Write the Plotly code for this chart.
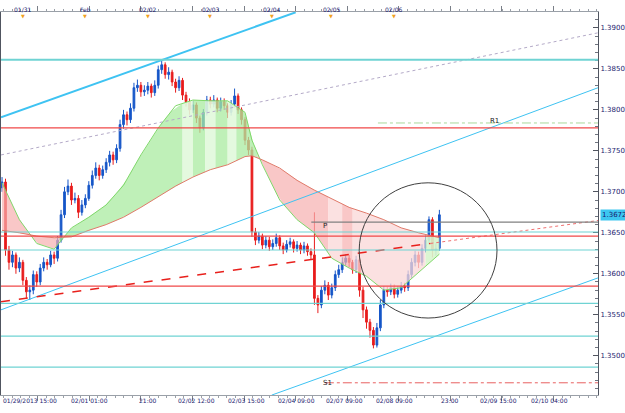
import numpy as np
import plotly.graph_objects as go

# ---------------- data ----------------
idx = list(range(127))
opens = [1.3705,1.3712,1.3629,1.3614,1.3623,1.3607,1.3614,1.3592,1.3578,1.3580,
1.3599,1.3590,1.3607,1.3614,1.3611,1.3623,1.3619,1.3641,1.3672,1.3700,
1.3707,1.3690,1.3692,1.3675,1.3684,1.3692,1.3708,1.3720,1.3729,1.3720,
1.3727,1.3736,1.3745,1.3739,1.3753,1.3782,1.3794,1.3788,1.3802,1.3827,
1.3830,1.3822,1.3824,1.3829,1.3821,1.3830,1.3849,1.3855,1.3843,1.3846,
1.3834,1.3827,1.3836,1.3818,1.3810,1.3800,1.3806,1.3790,1.3778,1.3797,
1.3812,1.3807,1.3812,1.3802,1.3810,1.3805,1.3797,1.3807,1.3817,1.3800,
1.3788,1.3763,1.3751,1.3651,1.3641,1.3646,1.3635,1.3641,1.3633,1.3637,
1.3644,1.3634,1.3629,1.3636,1.3639,1.3631,1.3635,1.3629,1.3634,1.3627,
1.3623,1.3570,1.3562,1.3580,1.3586,1.3574,1.3583,1.3599,1.3605,1.3614,
1.3619,1.3614,1.3605,1.3617,1.3580,1.3556,1.3541,1.3531,1.3513,1.3534,
1.3562,1.3580,1.3578,1.3583,1.3575,1.3580,1.3585,1.3583,1.3599,1.3614,
1.3623,1.3614,1.3631,1.3641,1.3666,1.3629,1.3631]
closes = [1.3712,1.3629,1.3614,1.3623,1.3607,1.3614,1.3592,1.3578,1.3580,1.3599,
1.3590,1.3607,1.3614,1.3611,1.3623,1.3619,1.3641,1.3672,1.3700,1.3707,
1.3690,1.3692,1.3675,1.3684,1.3692,1.3708,1.3720,1.3729,1.3720,1.3727,
1.3736,1.3745,1.3739,1.3753,1.3782,1.3794,1.3788,1.3802,1.3827,1.3830,
1.3822,1.3824,1.3829,1.3821,1.3830,1.3849,1.3855,1.3843,1.3846,1.3834,
1.3827,1.3836,1.3818,1.3810,1.3800,1.3806,1.3790,1.3778,1.3797,1.3812,
1.3807,1.3812,1.3802,1.3810,1.3805,1.3797,1.3807,1.3817,1.3800,1.3788,
1.3763,1.3751,1.3651,1.3641,1.3646,1.3635,1.3641,1.3633,1.3637,1.3644,
1.3634,1.3629,1.3636,1.3639,1.3631,1.3635,1.3629,1.3634,1.3627,1.3623,
1.3570,1.3562,1.3580,1.3586,1.3574,1.3583,1.3599,1.3605,1.3614,1.3619,
1.3614,1.3605,1.3617,1.3580,1.3556,1.3541,1.3531,1.3513,1.3534,1.3562,
1.3580,1.3578,1.3583,1.3575,1.3580,1.3585,1.3583,1.3599,1.3614,1.3623,
1.3614,1.3631,1.3641,1.3666,1.3629,1.3631,1.3672]
highs = [1.3718,1.3716,1.3634,1.3628,1.3626,1.3620,1.3617,1.3596,1.3586,1.3604,
1.3603,1.3612,1.3620,1.3618,1.3628,1.3627,1.3646,1.3678,1.3706,1.3715,
1.3711,1.3699,1.3696,1.3690,1.3697,1.3713,1.3726,1.3736,1.3733,1.3732,
1.3741,1.3750,1.3749,1.3758,1.3788,1.3800,1.3798,1.3808,1.3833,1.3837,
1.3834,1.3830,1.3834,1.3832,1.3836,1.3854,1.3861,1.3858,1.3852,1.3849,
1.3838,1.3841,1.3839,1.3822,1.3814,1.3811,1.3809,1.3793,1.3801,1.3817,
1.3816,1.3818,1.3815,1.3815,1.3814,1.3808,1.3812,1.3826,1.3820,1.3803,
1.3791,1.3767,1.3755,1.3656,1.3651,1.3649,1.3646,1.3645,1.3642,1.3649,
1.3647,1.3638,1.3641,1.3644,1.3642,1.3640,1.3638,1.3639,1.3637,1.3631,
1.3675,1.3574,1.3585,1.3592,1.3590,1.3588,1.3604,1.3611,1.3620,1.3624,
1.3623,1.3617,1.3622,1.3620,1.3584,1.3560,1.3545,1.3535,1.3540,1.3568,
1.3585,1.3584,1.3588,1.3587,1.3585,1.3590,1.3589,1.3604,1.3619,1.3628,
1.3627,1.3636,1.3647,1.3670,1.3669,1.3637,1.3678]
lows = [1.3700,1.3622,1.3605,1.3608,1.3600,1.3602,1.3586,1.3570,1.3568,1.3575,
1.3584,1.3586,1.3603,1.3605,1.3608,1.3612,1.3615,1.3638,1.3668,1.3696,
1.3684,1.3686,1.3668,1.3671,1.3680,1.3689,1.3704,1.3716,1.3714,1.3716,
1.3723,1.3731,1.3733,1.3735,1.3749,1.3777,1.3781,1.3784,1.3798,1.3822,
1.3816,1.3817,1.3819,1.3815,1.3817,1.3826,1.3844,1.3838,1.3837,1.3829,
1.3821,1.3823,1.3812,1.3804,1.3794,1.3796,1.3784,1.3772,1.3775,1.3793,
1.3802,1.3803,1.3797,1.3798,1.3800,1.3790,1.3793,1.3803,1.3795,1.3782,
1.3757,1.3745,1.3645,1.3635,1.3637,1.3630,1.3631,1.3628,1.3629,1.3633,
1.3629,1.3624,1.3626,1.3632,1.3626,1.3627,1.3624,1.3625,1.3622,1.3618,
1.3562,1.3552,1.3558,1.3575,1.3568,1.3570,1.3579,1.3595,1.3601,1.3610,
1.3608,1.3600,1.3601,1.3572,1.3546,1.3533,1.3522,1.3509,1.3510,1.3530,
1.3558,1.3572,1.3574,1.3570,1.3571,1.3576,1.3578,1.3579,1.3595,1.3609,
1.3607,1.3610,1.3626,1.3636,1.3620,1.3622,1.3628]

# cloud (two moving lines)
cloud_idx = [0,5,10,15,20,25,30,35,40,45,50,55,60,65,70,72,75,80,85,90,95,100,105,110,115,120,126]
green_line = [1.3711,1.3666,1.3637,1.3630,1.3656,1.3669,1.3684,1.3708,1.3745,1.3778,1.3805,1.3812,1.3811,1.3811,
              1.3797,1.3763,1.3733,1.3690,1.3666,1.3650,1.3619,1.3607,1.3597,1.3580,1.3583,1.3602,1.3624]
red_line = [1.3653,1.3650,1.3646,1.3644,1.3645,1.3653,1.3660,1.3669,1.3681,1.3694,1.3707,1.3718,1.3727,1.3733,
            1.3743,1.3744,1.3739,1.3729,1.3714,1.3702,1.3692,1.3681,1.3674,1.3666,1.3656,1.3650,1.3644]

# horizontal levels
cyan_levels = [1.3861, 1.3651, 1.3629, 1.3564, 1.3524, 1.3486]
red_levels = [1.3778, 1.3646, 1.3585]
r1_level, r1_start = 1.3784, 108.3
p_level, p_start = 1.3663, 89.1
s1_level, s1_start = 1.3467, 93.0

# trend lines (index, price)
red_trend_x, red_trend_y = [-0.3, 123.4], [1.3566, 1.3637]
red_trend_ext_x, red_trend_ext_y = [123.4, 171.7], [1.3637, 1.3665]
cyan_mid_x, cyan_mid_y = [-0.3, 171.7], [1.3556, 1.3827]
cyan_low_x, cyan_low_y = [77.7, 171.7], [1.3452, 1.3595]
cyan_up_x, cyan_up_y = [-0.3, 84.6], [1.3791, 1.3919]
gray_x, gray_y = [-0.3, 171.7], [1.3745, 1.3894]

# circle (index/price box)
circle_x = [102.9, 142.6]
circle_y = [1.3546, 1.3711]

last_price = 1.3672
y_ticks = [1.3450, 1.3500, 1.3550, 1.3600, 1.3650, 1.3700, 1.3750, 1.3800, 1.3850, 1.3900]
bottom_labels = ["01/29/2013 15:00", "02/01 01:00", "21:00", "02/02 12:00", "02/03 15:00",
                 "02/04 09:00", "02/07 09:00", "02/08 09:00", "23:00", "02/09 15:00", "02/10 04:00"]
bottom_label_pos = [8.0, 25.1, 42.0, 56.0, 70.3, 84.9, 98.6, 113.1, 128.9, 143.1, 157.7]
top_labels = ["01/31", "Feb", "02/02", "02/03", "02/04", "02/05", "02/06"]
top_label_pos = [6.0, 24.0, 42.0, 60.0, 77.7, 94.9, 112.9]

# ---------------- figure ----------------
W, H = 625, 413
ML, MR, MT, MB = 0, 23, 12, 18
fig = go.Figure()

FONT = "DejaVu Sans"
TXT = "#1a1a6e"

def seg_poly(a, b, color):
    xs = np.linspace(a, b, 12)
    g = np.interp(xs, cloud_idx, green_line)
    r = np.interp(xs, cloud_idx, red_line)
    fig.add_trace(go.Scatter(x=np.concatenate([xs, xs[::-1]]), y=np.concatenate([g, r[::-1]]),
                             fill="toself", fillcolor=color, line=dict(width=0),
                             mode="lines", hoverinfo="skip", showlegend=False))

GREEN = "rgba(170,235,160,0.75)"
GREEN_L = "rgba(225,248,220,0.9)"
PINK = "rgba(246,175,175,0.7)"
PINK_L = "rgba(250,215,215,0.75)"
segments = [(0, 16.6, PINK), (16.6, 52, GREEN), (52, 55, GREEN_L), (55, 58.5, GREEN), (58.5, 61.5, GREEN_L),
            (61.5, 65, GREEN), (65, 67.5, GREEN_L), (67.5, 73.6, GREEN), (73.6, 94, PINK), (94, 98, PINK_L),
            (98, 101, PINK), (101, 104, PINK_L), (104, 122, PINK_L), (122, 126, "rgba(215,245,205,0.9)")]
for a, b, c in segments:
    seg_poly(a, b, c)

fig.add_trace(go.Scatter(x=cloud_idx, y=green_line, mode="lines", line=dict(color="#7fd86a", width=1),
                         hoverinfo="skip", showlegend=False))
fig.add_trace(go.Scatter(x=cloud_idx, y=red_line, mode="lines", line=dict(color="#e07a6a", width=1),
                         hoverinfo="skip", showlegend=False))

# trend lines
def tline(x, y, color, width=1, dash="solid"):
    fig.add_trace(go.Scatter(x=x, y=y, mode="lines", line=dict(color=color, width=width, dash=dash),
                             hoverinfo="skip", showlegend=False))

tline(gray_x, gray_y, "#b4aac8", 1, "dot")
tline(cyan_up_x, cyan_up_y, "#3ec3f2", 2)
tline(cyan_mid_x, cyan_mid_y, "#3ec3f2", 1)
tline(cyan_low_x, cyan_low_y, "#3ec3f2", 1)

# candles
fig.add_trace(go.Candlestick(x=idx, open=opens, high=highs, low=lows, close=closes,
                             increasing=dict(line=dict(color="#1656c8", width=1), fillcolor="#1656c8"),
                             decreasing=dict(line=dict(color="#e81c1c", width=1), fillcolor="#e81c1c"),
                             whiskerwidth=0, showlegend=False, hoverinfo="skip"))

tline(red_trend_x, red_trend_y, "#e8201c", 1.5, "dash")
tline(red_trend_ext_x, red_trend_ext_y, "#f07070", 1, "dot")

shapes = []
for i, lv in enumerate(cyan_levels):
    shapes.append(dict(type="line", xref="paper", yref="y", x0=0, x1=1, y0=lv, y1=lv,
                       line=dict(color="#6fd3d3", width=2 if i == 0 else 1.2)))
for lv in red_levels:
    shapes.append(dict(type="line", xref="paper", yref="y", x0=0, x1=1, y0=lv, y1=lv,
                       line=dict(color="#f04848", width=1.2)))
shapes.append(dict(type="line", xref="x", yref="y", x0=r1_start, x1=171.7, y0=r1_level, y1=r1_level,
                   line=dict(color="#a8d89c", width=1, dash="dashdot")))
shapes.append(dict(type="line", xref="x", yref="y", x0=p_start, x1=171.7, y0=p_level, y1=p_level,
                   line=dict(color="#808080", width=1.2)))
shapes.append(dict(type="line", xref="x", yref="y", x0=s1_start, x1=171.7, y0=s1_level, y1=s1_level,
                   line=dict(color="#e86060", width=1, dash="dashdot")))
shapes.append(dict(type="circle", xref="x", yref="y", x0=circle_x[0], x1=circle_x[1],
                   y0=circle_y[0], y1=circle_y[1], line=dict(color="#404040", width=1)))

ann = []
ann.append(dict(x=140, y=r1_level, text="R1", showarrow=False, xref="x", yref="y",
                font=dict(size=7, color="#202020", family=FONT), yshift=2, xanchor="left"))
ann.append(dict(x=92, y=p_level, text="P", showarrow=False, xref="x", yref="y",
                font=dict(size=7, color="#202020", family=FONT), yshift=-4, xanchor="left"))
ann.append(dict(x=92, y=s1_level, text="S1", showarrow=False, xref="x", yref="y",
                font=dict(size=7, color="#202020", family=FONT), xanchor="left"))
for t, p in zip(bottom_labels, bottom_label_pos):
    ann.append(dict(x=p, y=0, yref="paper", xref="x", text=t, showarrow=False, yshift=-11,
                    font=dict(size=6, color=TXT, family=FONT)))
for t, p in zip(top_labels, top_label_pos):
    ann.append(dict(x=p, y=1, yref="paper", xref="x", text=t, showarrow=False, yshift=8,
                    font=dict(size=6, color=TXT, family=FONT)))
    ann.append(dict(x=p, y=1, yref="paper", xref="x", text="▼", showarrow=False, yshift=1,
                    font=dict(size=5, color="#f0a020", family=FONT)))
ann.append(dict(x=1, xref="paper", y=last_price, yref="y", text=f"{last_price:.4f}", showarrow=False,
                xanchor="left", xshift=2, bgcolor="#3cc6f0", borderpad=1,
                font=dict(size=7, color=TXT, family=FONT)))

fig.update_layout(
    width=W, height=H, margin=dict(l=ML, r=MR, t=MT, b=MB),
    paper_bgcolor="white", plot_bgcolor="white",
    shapes=shapes, annotations=ann, showlegend=False,
    xaxis=dict(range=[-0.3, 171.7], showgrid=False, zeroline=False, rangeslider=dict(visible=False),
               showline=True, linecolor="#9aa0a8", linewidth=1, mirror="allticks",
               ticks="outside", ticklen=5, tickcolor="#7a7f88", tick0=10.3, dtick=14.86,
               showticklabels=False,
               minor=dict(ticks="outside", ticklen=2, tickcolor="#9aa0a8", tick0=10.3, dtick=2.477)),
    yaxis=dict(range=[1.34521, 1.39194], side="right", showgrid=False, zeroline=False,
               showline=True, linecolor="#505560", linewidth=1, mirror=True,
               tickvals=y_ticks, ticktext=[f"{v:.4f}" for v in y_ticks],
               ticks="inside", ticklen=5, tickcolor="#505560",
               tickfont=dict(size=7, color=TXT, family=FONT),
               minor=dict(ticks="inside", ticklen=3, tickcolor="#707580", dtick=0.001, tick0=1.345)),
)

fig.write_html("out.html")
